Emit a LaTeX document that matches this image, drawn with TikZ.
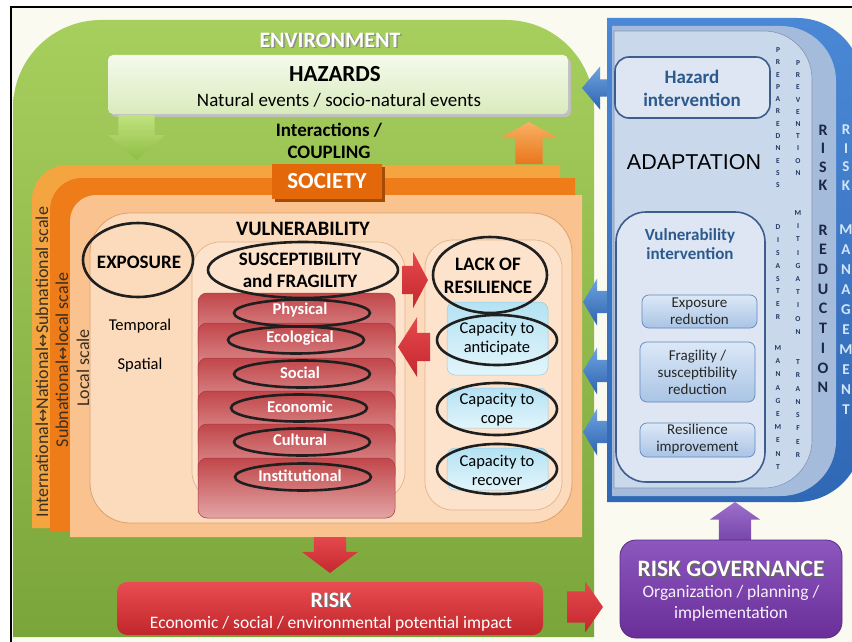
\documentclass[tikz,border=0pt]{standalone}
\usepackage{fontspec}
\setmainfont{Carlito}
\newfontfamily\arialfont{Liberation Sans}
\newfontfamily\symfont{DejaVu Sans}
\usetikzlibrary{shapes.geometric,shapes.arrows}
\newcommand{\fz}[2]{\fontsize{#1}{#2}\selectfont}
\newcommand{\biarrow}{{\symfont\fontsize{16}{16}\selectfont ↔}}
\definecolor{cream}{HTML}{FBFAF0}
\definecolor{envTop}{HTML}{A7CF5E}\definecolor{envBot}{HTML}{7AA53A}
\definecolor{hazTop}{HTML}{F5FAEC}\definecolor{hazBot}{HTML}{D9EBBD}
\definecolor{gArrTop}{HTML}{C2E27F}\definecolor{gArrBot}{HTML}{8DBE43}
\definecolor{oArrTop}{HTML}{F9B062}\definecolor{oArrBot}{HTML}{E9761C}
\definecolor{orA}{HTML}{F4A540}\definecolor{orB}{HTML}{EE7C18}\definecolor{orC}{HTML}{F9C28E}
\definecolor{socFill}{HTML}{E2680A}\definecolor{socShadow}{HTML}{A34C08}
\definecolor{vulnFill}{HTML}{FCDABC}\definecolor{vulnLine}{HTML}{D9A26E}
\definecolor{innerFill}{HTML}{FDE3CC}\definecolor{innerLine}{HTML}{E0B48A}
\definecolor{bandTop}{HTML}{C1464A}\definecolor{bandBot}{HTML}{E3A4A4}\definecolor{bandLine}{HTML}{A8383C}
\definecolor{capTop}{HTML}{B4E2F3}\definecolor{capBot}{HTML}{E2F5FB}\definecolor{capLine}{HTML}{9CCADD}
\definecolor{rArrTop}{HTML}{E5484D}\definecolor{rArrBot}{HTML}{C4282E}
\definecolor{bOutTop}{HTML}{4A88D6}\definecolor{bOutBot}{HTML}{2F68B5}
\definecolor{bMid}{HTML}{A5BBDB}\definecolor{bInner}{HTML}{CAD8EC}
\definecolor{intFill}{HTML}{DDE6F2}\definecolor{intLine}{HTML}{3D5D8C}\definecolor{intTxt}{HTML}{2D5A8E}
\definecolor{sbTop}{HTML}{DCE8F7}\definecolor{sbBot}{HTML}{A9C4E5}\definecolor{sbLine}{HTML}{6489BD}
\definecolor{blArrTop}{HTML}{6FA3E0}\definecolor{blArrBot}{HTML}{2D63B0}
\definecolor{navy}{HTML}{1F3763}\definecolor{rrTxt}{HTML}{1A2845}\definecolor{rmTxt}{HTML}{D3E5FA}
\definecolor{riskTop}{HTML}{EA4D51}\definecolor{riskBot}{HTML}{C0262B}
\definecolor{purTop}{HTML}{8C57BE}\definecolor{purBot}{HTML}{6A2E98}\definecolor{purLine}{HTML}{5A2A82}
\definecolor{pArrTop}{HTML}{9D70CC}\definecolor{pArrBot}{HTML}{7544A8}
\definecolor{scaleTxt}{HTML}{3A2E22}
\begin{document}
\begin{tikzpicture}[x=1pt,y=-1pt,
  every node/.style={inner sep=0pt,outer sep=0pt,align=center},
  ring/.style={ellipse, draw=black!88, line width=2.6pt},
  blk/.style={single arrow, draw=none, inner xsep=0pt, minimum height=#1},
  vblk/.style={single arrow, draw=none, inner ysep=0pt, minimum height=#1},
  redband/.style={draw=bandLine, line width=0.5pt, rounded corners=9pt, top color=bandTop, bottom color=bandBot, minimum width=197pt, minimum height=60pt},
  capbox/.style={rounded corners=8pt, top color=capTop, bottom color=capBot, draw=capLine, line width=0.5pt, minimum width=101pt},
  bluebox/.style={rounded corners=7pt, top color=sbTop, bottom color=sbBot, draw=sbLine, line width=0.7pt, minimum width=115pt},
  intbox/.style={rounded corners=#1, fill=intFill, draw=intLine, line width=1.6pt},
  letter/.style={font=\bfseries\fz{7.5}{8}, text=navy},
  bigletter/.style={font=\bfseries\fz{16}{16}, text=rrTxt},
  mgletter/.style={font=\bfseries\fz{15}{15}, text=rmTxt}]
\useasboundingbox (0,0) rectangle (852,642);
\fill[white] (0,0) rectangle (852,642);
\fill[cream] (11,7) rectangle (852,642);
\draw[line width=2.4pt] (11,642) -- (11,7) -- (852,7);

\path[top color=envTop, bottom color=envBot] (13,637) -- (13,300) [rounded corners=88pt] -- (13,20) -- (594,20) -- (594,300) [sharp corners] -- (594,637) -- cycle;
\node[font=\bfseries\fz{22}{24}, text=black!45] (envShadow) at (331.5,41.5) {ENVIRONMENT};
\node[font=\bfseries\fz{22}{24}, text=white] (envLabel) at (330,40) {ENVIRONMENT};

\fill[black!25, rounded corners=5pt] (111,58) rectangle (571,117);
\node[rounded corners=5pt, top color=hazTop, bottom color=hazBot, minimum width=460pt, minimum height=59pt, anchor=north west] (hazBox) at (108,55) {};
\node[font=\bfseries\fz{23}{25}] (hazTitle) at (335,74) {HAZARDS};
\node[font=\fz{19}{21}] (hazSub) at (339,100) {Natural events / socio-natural events};
\node[font=\bfseries\fz{19}{22}] (coupling) at (329,141) {Interactions /\\COUPLING};

\coordinate (greenTip) at (136.5,160);
\coordinate (orangeTip) at (529,122);
\node[vblk=45pt, inner xsep=18pt, single arrow head extend=10.5pt, single arrow tip angle=98, shape border rotate=270, anchor=tip, top color=gArrTop, bottom color=gArrBot] (arrDown) at (greenTip) {};
\node[vblk=42pt, inner xsep=13.5pt, single arrow head extend=15.5pt, single arrow tip angle=122, shape border rotate=90, anchor=tip, top color=oArrTop, bottom color=oArrBot] (arrUp) at (orangeTip) {};

\path[fill=orA] (32,528) -- (32,300) [rounded corners=35pt] -- (32,165) -- (300,165) [sharp corners] -- (560,165) -- (560,528) -- cycle;
\path[fill=orB] (50,531) -- (50,300) [rounded corners=32pt] -- (50,178) -- (300,178) [sharp corners] -- (575,178) -- (575,531) -- cycle;
\path[fill=orC] (70,537) -- (70,300) [rounded corners=26pt] -- (70,195) -- (300,195) [sharp corners] -- (582,195) -- (582,537) -- cycle;
\fill[socShadow] (275,167) rectangle (385,202);
\node[fill=socFill, minimum width=110pt, minimum height=35pt, anchor=north west, font=\bfseries\fz{23}{25}, text=white] (society) at (272,164) {SOCIETY};

\node[rotate=90, font=\fz{18}{19}, text=scaleTxt] (scaleIntl) at (42,362) {International\biarrow National\biarrow Subnational scale};
\node[rotate=90, font=\fz{18}{19}, text=scaleTxt] (scaleSub) at (62,360) {Subnational\biarrow local scale};
\node[rotate=90, font=\fz{18}{19}, text=scaleTxt] (scaleLocal) at (83,368) {Local scale};

\node[draw=vulnLine, fill=vulnFill, line width=0.8pt, rounded corners=40pt, minimum width=482pt, minimum height=310pt, anchor=north west] (vulnBox) at (90,213) {};
\node[draw=innerLine, fill=innerFill, line width=0.7pt, rounded corners=28pt, minimum width=213pt, minimum height=258pt, anchor=north west] (suscBox) at (192,242) {};
\node[draw=innerLine, fill=innerFill, line width=0.7pt, rounded corners=28pt, minimum width=137pt, minimum height=270pt, anchor=north west] (resBox) at (425,240) {};
\node[font=\bfseries\fz{20.5}{22}] (vulnTitle) at (303,229) {VULNERABILITY};
\node[font=\bfseries\fz{19}{21}] (exposure) at (139,262) {EXPOSURE};
\node[font=\fz{16.5}{18}] (temporal) at (140,326) {Temporal};
\node[font=\fz{16.5}{18}] (spatial) at (140,365) {Spatial};
\node[font=\bfseries\fz{19}{22}] (susc) at (300,270) {SUSCEPTIBILITY\\and FRAGILITY};

\foreach \nm/\t in {phys/293,eco/323,soc/358,econ/391,cult/424,inst/458}
  \node[redband, anchor=north] (\nm) at (296.5,\t) {};
\foreach \nm/\lbl/\y in {phys/Physical/310,eco/Ecological/338,soc/Social/373,econ/Economic/407,cult/Cultural/440,inst/Institutional/476}
  \node[font=\bfseries\fz{16.5}{18}, text=white] (\nm Txt) at (300,\y) {\lbl};
\foreach \nm/\x/\y in {phys/302/313,eco/296/340,soc/302/374,econ/299/408,cult/302/442,inst/303/477}
  \node[ring, minimum width=136pt, minimum height=27pt] (\nm Ring) at (\x,\y) {};

\node[ring, minimum width=110pt, minimum height=74pt] (exposureRing) at (138,260) {};
\node[ring, minimum width=190pt, minimum height=56pt] (suscRing) at (303,270) {};

\node[blk=26pt, inner ysep=14pt, single arrow head extend=14pt, single arrow tip angle=124, anchor=tip, top color=rArrTop, bottom color=rArrBot] (arrToRes) at (428,280) {};
\node[blk=32pt, inner ysep=14pt, single arrow head extend=16pt, single arrow tip angle=115, shape border rotate=180, anchor=tip, top color=rArrTop, bottom color=rArrBot] (arrFromRes) at (398,347) {};

\node[capbox, minimum height=73pt] (antBox) at (497.5,338.5) {};
\node[capbox, minimum height=40pt] (copeBox) at (497.5,408) {};
\node[capbox, minimum height=42pt] (recBox) at (497.5,469) {};
\node[font=\bfseries\fz{19}{23}] (lackRes) at (488,275.5) {LACK OF\\RESILIENCE};
\node[font=\fz{16.5}{19}] (antTxt) at (497,338.5) {Capacity to\\anticipate};
\node[font=\fz{16.5}{19}] (copeTxt) at (497,410) {Capacity to\\cope};
\node[font=\fz{16.5}{19}] (recTxt) at (497,470.5) {Capacity to\\recover};
\node[ring, minimum width=114pt, minimum height=76pt] (lackRing) at (490,275) {};
\node[ring, minimum width=120pt, minimum height=50pt] (antRing) at (497,340) {};
\node[ring, minimum width=120pt, minimum height=52pt] (copeRing) at (497,409) {};
\node[ring, minimum width=120pt, minimum height=50pt] (recRing) at (497,469) {};

\node[blk=36pt, inner ysep=8.5pt, single arrow head extend=13pt, single arrow tip angle=100, shape border rotate=180, anchor=tip, top color=blArrTop, bottom color=blArrBot] (arrHaz) at (582,88) {};
\foreach \nm/\y in {Expo/302,Frag/371,Resi/432}
  \node[blk=29pt, inner ysep=11pt, single arrow head extend=12.5pt, single arrow tip angle=118, shape border rotate=180, anchor=tip, top color=blArrTop, bottom color=blArrBot] (arr\nm) at (583,\y) {};

\path[top color=bOutTop, bottom color=bOutBot] (607,18) -- (700,18) [rounded corners=65pt] -- (862,18) -- (862,502) -- (700,502) [sharp corners] -- (607,502) -- cycle;
\path[fill=bMid] (612,26) -- (700,26) [rounded corners=55pt] -- (836,26) -- (836,496) -- (700,496) [sharp corners] -- (612,496) -- cycle;
\path[fill=bInner, draw=bMid!80!black, line width=0.6pt] (614,31) -- (700,31) [rounded corners=48pt] -- (812,31) -- (812,488) -- (700,488) [sharp corners] -- (614,488) -- cycle;

\node[intbox=14pt, minimum width=155pt, minimum height=61pt, anchor=north west] (hazInt) at (615,57) {};
\node[font=\bfseries\fz{19}{23}, text=intTxt] (hazIntTxt) at (692,88) {Hazard\\intervention};
\node[font=\arialfont\fz{21.5}{24}] (adapt) at (694,162) {ADAPTATION};
\node[intbox=30pt, minimum width=149pt, minimum height=270pt, anchor=north west] (vulnInt) at (616,212) {};
\node[font=\bfseries\fz{17}{19}, text=intTxt] (vulnIntTxt) at (690,244) {Vulnerability\\intervention};
\node[bluebox, minimum height=33pt] (expoRed) at (699.5,311.5) {};
\node[bluebox, minimum height=60pt] (fragRed) at (697.5,372) {};
\node[bluebox, minimum height=34pt] (resiImp) at (697.5,440) {};
\node[font=\fz{15}{17}, text=black!85] (expoRedTxt) at (699.5,311) {Exposure\\reduction};
\node[font=\fz{15}{17}, text=black!85] (fragRedTxt) at (697.5,372) {Fragility /\\susceptibility\\reduction};
\node[font=\fz{15}{17}, text=black!85] (resiImpTxt) at (697.5,439) {Resilience\\improvement};

\foreach \nm/\x/\y/\dy/\wlist in {prep/778/50/12.3/{P,R,E,P,A,R,E,D,N,E,S,S}, disa/778/227/12.9/{D,I,S,A,S,T,E,R}, mana/778/348/13.2/{M,A,N,A,G,E,M,E,N,T}, prev/798/63/12.2/{P,R,E,V,E,N,T,I,O,N}, miti/798/213/13.2/{M,I,T,I,G,A,T,I,O,N}, tran/798/362/13.3/{T,R,A,N,S,F,E,R}}
  \foreach \ch [count=\k from 0] in \wlist
    \node[letter] (\nm\k) at (\x,\y+\dy*\k) {\ch};
\foreach \nm/\y/\dy/\wlist in {rr/130/18.5/{R,I,S,K}, rd/230/19.7/{R,E,D,U,C,T,I,O,N}}
  \foreach \ch [count=\k from 0] in \wlist
    \node[bigletter] (\nm\k) at (823,\y+\dy*\k) {\ch};
\foreach \nm/\y/\dy/\wlist in {rm/130/18.5/{R,I,S,K}, mg/230/20/{M,A,N,A,G,E,M,E,N,T}}
  \foreach \ch [count=\k from 0] in \wlist
    \node[mgletter] (\nm\k) at (846,\y+\dy*\k) {\ch};

\node[vblk=36pt, inner xsep=16pt, single arrow head extend=12pt, single arrow tip angle=106, shape border rotate=270, anchor=tip, top color=rArrTop, bottom color=rArrBot] (arrRisk) at (330,573) {};
\node[rounded corners=10pt, top color=riskTop, bottom color=riskBot, minimum width=426pt, minimum height=53pt, anchor=north west] (riskBox) at (117,582) {};
\node[font=\bfseries\fz{22}{24}, text=black!55] (riskShadow) at (332.5,601.5) {RISK};
\node[font=\bfseries\fz{22}{24}, text=white] (riskTitle) at (331,600) {RISK};
\node[font=\fz{17.5}{19}, text=white] (riskSub) at (331,624) {Economic / social / environmental potential impact};
\node[blk=36pt, inner ysep=15.5pt, single arrow head extend=10pt, single arrow tip angle=110, anchor=tip, top color=rArrTop, bottom color=rArrBot] (arrGov) at (603,607) {};

\node[vblk=40pt, inner xsep=16pt, single arrow head extend=9pt, single arrow tip angle=110, shape border rotate=90, anchor=tip, top color=pArrTop, bottom color=pArrBot] (arrAdapt) at (735,502) {};
\node[rounded corners=16pt, top color=purTop, bottom color=purBot, draw=purLine, line width=0.8pt, minimum width=222pt, minimum height=98pt, anchor=north west] (govBox) at (620,540) {};
\node[font=\bfseries\fz{23.5}{25}, text=black!60] (govShadow) at (732.5,570.5) {RISK GOVERNANCE};
\node[font=\bfseries\fz{23.5}{25}, text=white] (govTitle) at (731,569) {RISK GOVERNANCE};
\node[font=\fz{17.5}{21}, text=white!92!purTop] (govSub) at (731,603) {Organization / planning /\\implementation};
\end{tikzpicture}
\end{document}
